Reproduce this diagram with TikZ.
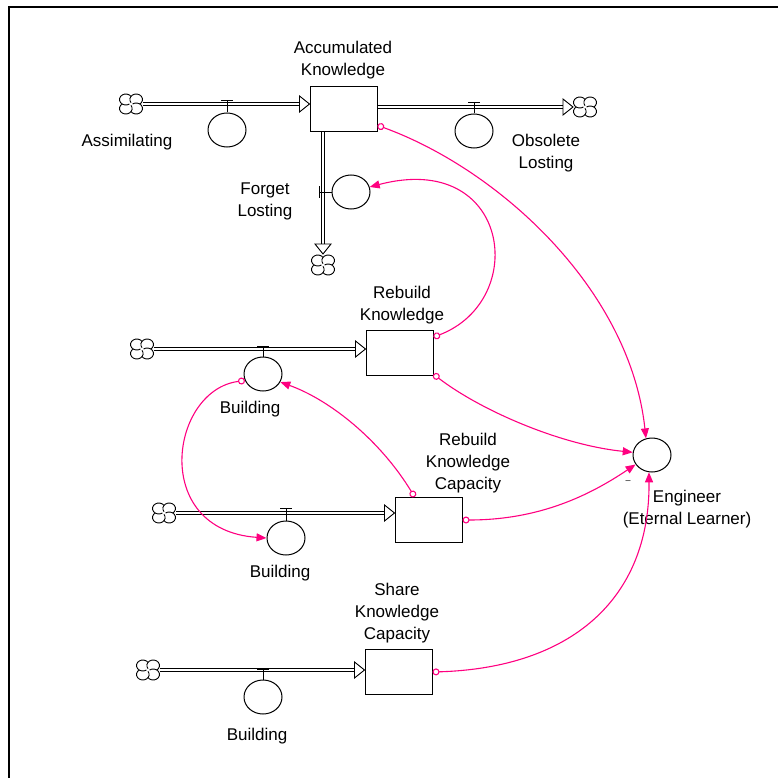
\documentclass[tikz,border=0pt]{standalone}
\usepackage{fontspec}
\setmainfont{Liberation Sans}
\usetikzlibrary{arrows.meta,shapes.geometric}
\definecolor{lnk}{RGB}{255,0,128}
\begin{document}
\begin{tikzpicture}[x=1pt,y=-1pt,
  stock/.style={draw, line width=1pt, minimum width=67pt, minimum height=45pt, inner sep=0pt, fill=white},
  valve/.style={ellipse, draw, line width=1pt, minimum width=38pt, minimum height=34pt, inner sep=0pt, fill=white},
  lbl/.style={align=center, inner sep=0pt, font=\fontsize{17}{22}\selectfont},
  pipe/.style={double, double distance=2.6pt, line width=0.9pt},
  stem/.style={line width=1pt},
  link/.style={draw=lnk, line width=1.1pt, {Circle[open,length=7pt,width=7pt]}-{Triangle[length=10pt,width=8pt]}},
  pics/vcloud/.style={code={
    \begin{scope}[y=1pt, xscale=1.15]
      \foreach \k in {0,1,2,3}
        \fill[white] ({45+90*\k}:6.36) circle (5.5);
      \foreach \k in {0,1,2,3}
        \draw[line width=0.9pt] ({45+90*\k}:6.36) ++({-55+90*\k}:5.5)
          arc[start angle={-55+90*\k}, end angle={215+90*\k}, radius=5.5];
    \end{scope}
  }},
  pics/inhead/.style={code={
    \draw[line width=0.9pt, fill=white] (0,0) -- (-10,-8) -- (-10,8) -- cycle;
  }}
]
\useasboundingbox (0,0) rectangle (778,778);
\draw[line width=2pt] (8.5,778) -- (8.5,7.5) -- (778,7.5);

% stocks
\node[stock] (ak) at (343.5,109.5) {};
\node[stock] (rk) at (399.5,353) {};
\node[stock] (rkc) at (428.5,520) {};
\node[stock] (skc) at (398.5,672) {};

% clouds
\coordinate (cl1) at (131,104);
\coordinate (cl2) at (585,107);
\coordinate (cl3) at (323,265);
\coordinate (cl4) at (142,349);
\coordinate (cl5) at (164,513);
\coordinate (cl6) at (148,670);

% pipes
\coordinate (t1) at (ak.west |- cl1);
\draw[pipe] ([xshift=12pt]cl1) -- ([xshift=-10pt]t1);
\pic at (t1) {inhead};

\coordinate (s2) at (ak.east |- cl2);
\draw[pipe] (s2) -- ([xshift=-22pt]cl2);
\pic at ([xshift=-12pt]cl2) {inhead};

\coordinate (s3) at (ak.south -| cl3);
\draw[pipe] (s3) -- ([yshift=21pt]cl3);
\pic[rotate=-90] at ([yshift=11pt]cl3) {inhead};

\coordinate (t4) at (rk.west |- cl4);
\draw[pipe] ([xshift=12pt]cl4) -- ([xshift=-10pt]t4);
\pic at (t4) {inhead};

\coordinate (t5) at (rkc.west |- cl5);
\draw[pipe] ([xshift=12pt]cl5) -- ([xshift=-10pt]t5);
\pic at (t5) {inhead};

\coordinate (t6) at (skc.west |- cl6);
\draw[pipe] ([xshift=12pt]cl6) -- ([xshift=-10pt]t6);
\pic at (t6) {inhead};

\foreach \c in {cl1,cl2,cl3,cl4,cl5,cl6} \pic at (\c) {vcloud};

% valves
\node[valve] (va) at (227,130) {};
\draw[stem] (va.north) -- ++(0,-12) ++(-6,0) -- ++(12,0);
\node[valve] (vo) at (474,131) {};
\draw[stem] (vo.north) -- ++(0,-11) ++(-6,0) -- ++(12,0);
\node[valve] (vf) at (351,192) {};
\draw[stem] (vf.west) -- ++(-12,0) ++(0,-6) -- ++(0,12);
\node[valve] (b1) at (263,374) {};
\draw[stem] (b1.north) -- ++(0,-10) ++(-6,0) -- ++(12,0);
\node[valve] (b2) at (286,538) {};
\draw[stem] (b2.north) -- ++(0,-12) ++(-6,0) -- ++(12,0);
\node[valve] (b3) at (263,697) {};
\draw[stem] (b3.north) -- ++(0,-10) ++(-6,0) -- ++(12,0);
\node[valve] (eng) at (652,455) {};

% labels
\node[lbl] (lak) at (343,60) {Accumulated\\Knowledge};
\node[lbl] (lva) at (127,142) {Assimilating};
\node[lbl] (lvo) at (546,153) {Obsolete\\Losting};
\node[lbl] (lvf) at (265,201) {Forget\\Losting};
\node[lbl] (lrk) at (402,305) {Rebuild\\Knowledge};
\node[lbl] (lb1) at (250,409) {Building};
\node[lbl] (lrkc) at (468,463) {Rebuild\\Knowledge\\Capacity};
\node[lbl] (lb2) at (280,573) {Building};
\node[lbl] (leng) at (687,509) {Engineer\\(Eternal Learner)};
\node[lbl] (lskc) at (397,613) {Share\\Knowledge\\Capacity};
\node[lbl] (lb3) at (257,736) {Building};
\node[inner sep=0pt, font=\fontsize{9}{9}\selectfont] (emin) at (628,482) {–};

% links
\draw[link] (ak.-25) .. controls (500,170) and (630,290) .. (eng.110);
\draw[link] (rk.25) .. controls (530,300) and (510,150) .. (vf.15);
\draw[link] (rk.-32) .. controls (480,410) and (560,445) .. (eng.172);
\draw[link] (rkc.121) .. controls (380,440) and (330,400) .. (b1.-25);
\draw[link] (b1.200) .. controls (170,390) and (150,530) .. (b2.west);
\draw[link] (rkc.east) .. controls (540,520) and (590,495) .. (eng.210);
\draw[link] (skc.east) .. controls (570,668) and (650,600) .. (eng.-100);
\end{tikzpicture}
\end{document}
